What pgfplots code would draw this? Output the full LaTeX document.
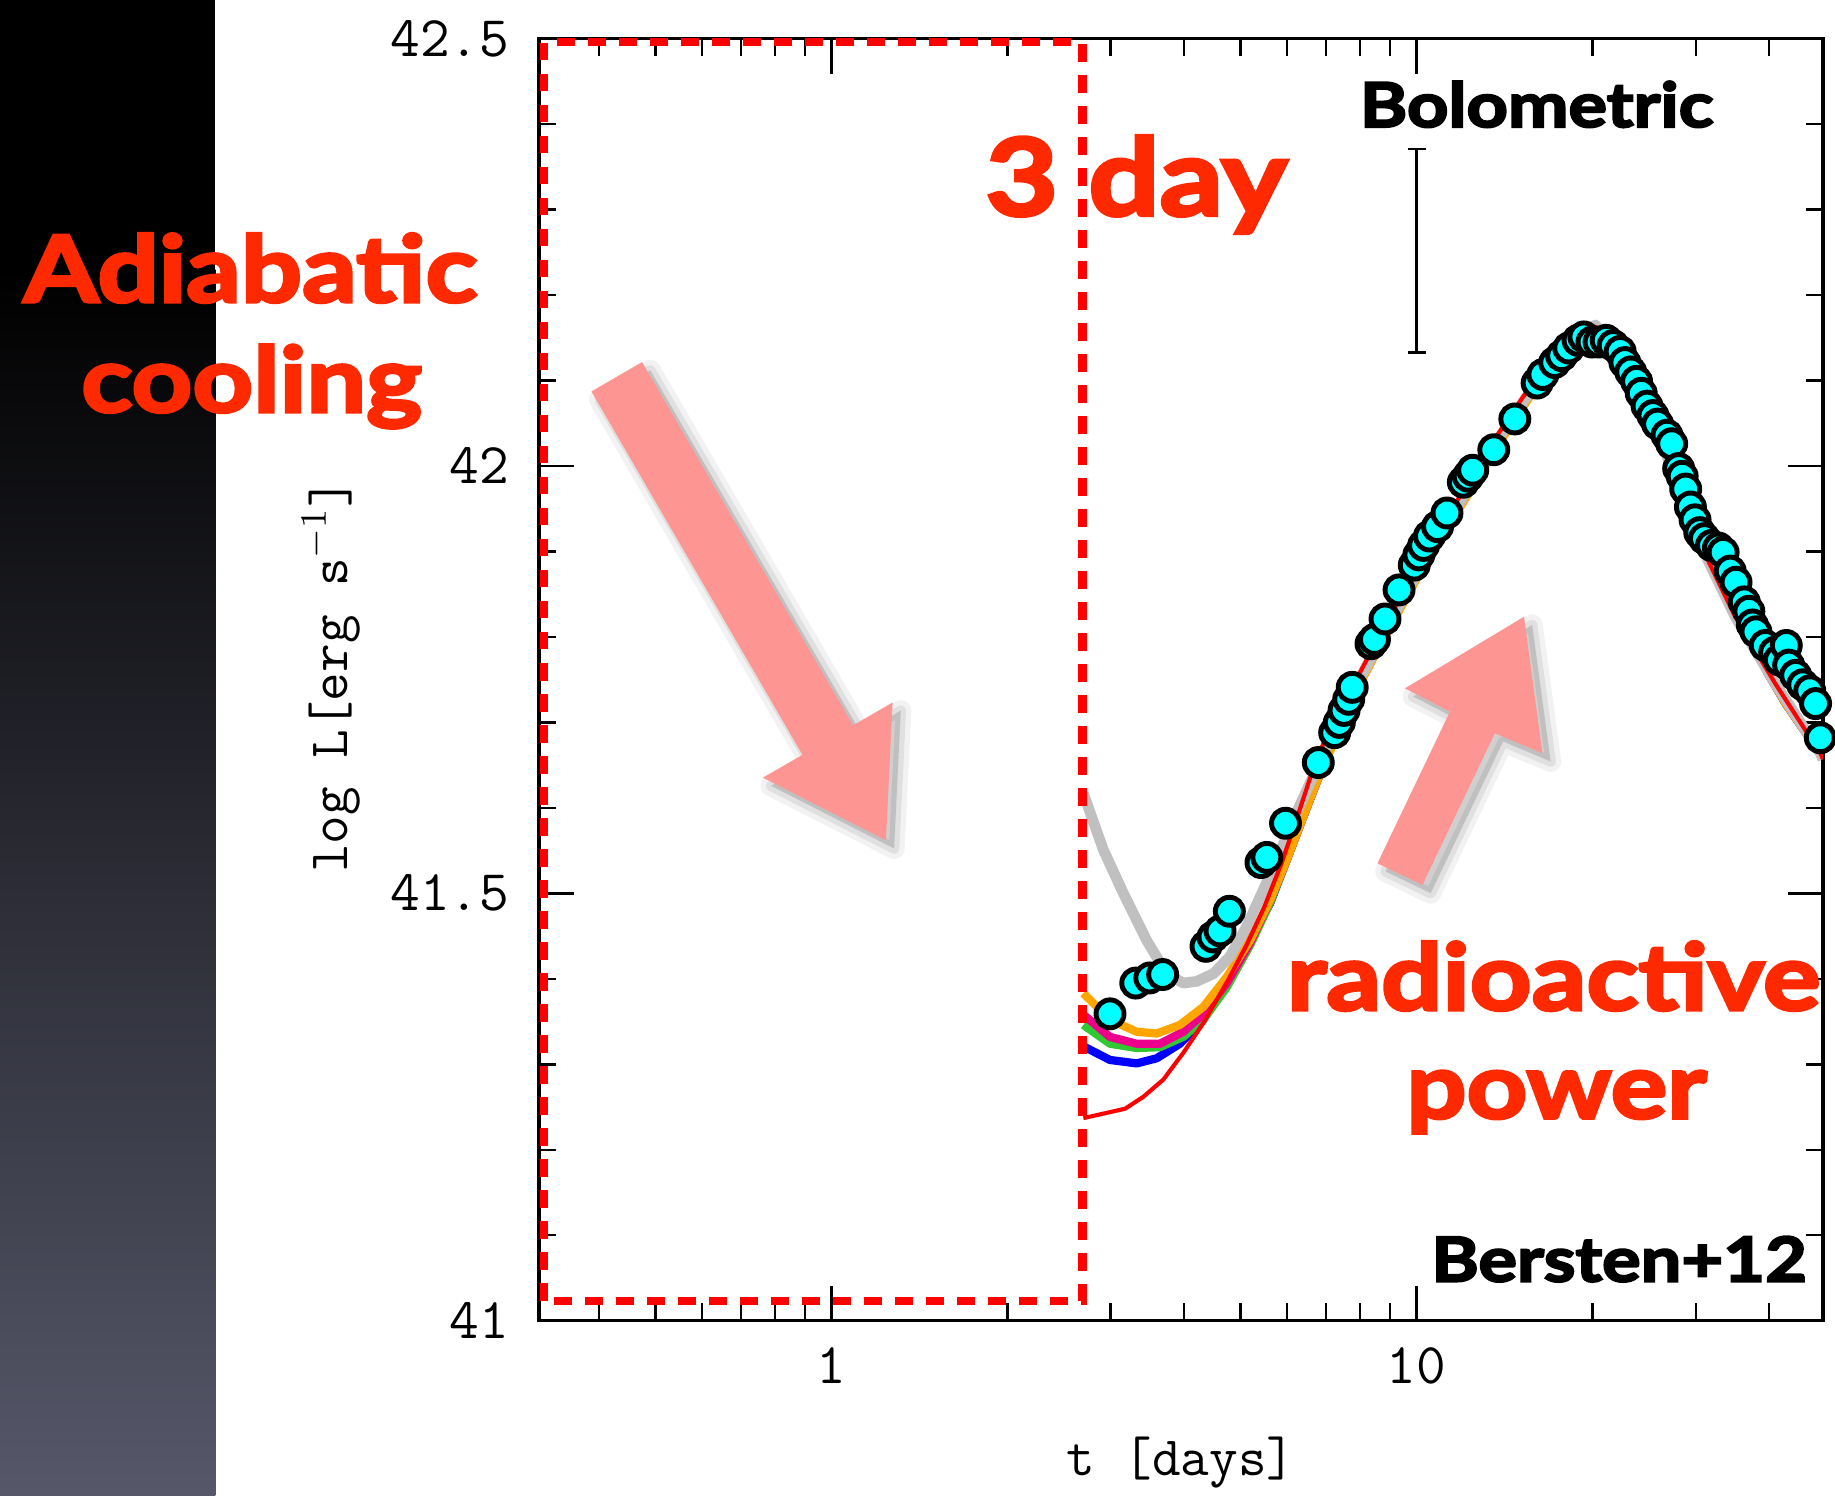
\documentclass[border=0pt]{standalone}
\usepackage{pgfplots}
\pgfplotsset{compat=1.18}
\usepackage{fontspec}
\newfontfamily\annot{Lato}[BoldFeatures={FakeBold=3.5, FakeStretch=1.17}]
\definecolor{slideRed}{RGB}{255,41,0}
\definecolor{arrowPink}{RGB}{253,150,147}
\definecolor{curveGray}{RGB}{192,192,192}
\definecolor{curveOrange}{RGB}{255,165,0}
\definecolor{curveGreen}{RGB}{50,200,50}
\definecolor{ptCyan}{RGB}{0,255,255}
\definecolor{slateB}{RGB}{86,88,106}
\definecolor{navyB}{RGB}{28,29,54}

\begin{document}
\begin{tikzpicture}
\path[use as bounding box] (0,0) rectangle (156.8mm,127.8mm);
\fill[white] (0,0) rectangle (156.8mm,127.8mm);
\fill[black] (0,104.7mm) rectangle (18.4mm,127.8mm);
\shade[top color=black, middle color=navyB, bottom color=slateB] (0,0) rectangle (18.4mm,104.8mm);

\begin{axis}[
  at={(46.06mm,14.95mm)}, anchor=south west,
  scale only axis, width=109.71mm, height=109.55mm,
  xmode=log, xmin=0.3162, xmax=49.5, ymin=41, ymax=42.5,
  xtick={1,10}, xticklabels={1,10},
  minor xtick={0.4,0.5,0.6,0.7,0.8,0.9,2,3,4,5,6,7,8,9,20,30,40},
  ytick={41,41.5,42,42.5}, yticklabels={41,41.5,42,42.5},
  minor ytick={41.1,41.2,41.3,41.4,41.6,41.7,41.8,41.9,42.1,42.2,42.3,42.4},
  tick pos=both, tick align=inside,
  major tick length=3mm, minor tick length=1.5mm,
  every tick/.style={black, line width=0.6pt},
  axis line style={line width=0.8pt},
  tick label style={font=\fontsize{14}{16}\selectfont\ttfamily},
  yticklabel style={xshift=-1.3mm},
  xticklabel style={yshift=-1.1mm},
  xlabel={t [days]}, ylabel={log L[erg s$^{-1}$]},
  label style={font=\fontsize{13.5}{16}\selectfont\ttfamily},
  xlabel style={at={(axis description cs:0.5,-0.111)}, anchor=center},
  ylabel style={at={(axis description cs:-0.1619,0.503)}, anchor=center},
  clip=true,
]
% blue model
\addplot[blue, line width=2pt, line join=round] coordinates {
(2.694,41.321)(2.992,41.305)(3.324,41.301)(3.595,41.307)(3.940,41.324)(4.318,41.352)(4.613,41.383)(4.925,41.414)(5.260,41.453)(5.616,41.488)(5.998,41.539)(6.405,41.590)(6.837,41.640)(7.396,41.696)(7.943,41.747)(8.710,41.799)(9.550,41.849)(10.47,41.899)(11.48,41.942)(12.59,41.986)(13.80,42.032)(15.14,42.073)(16.60,42.114)(18.20,42.145)(19.50,42.159)(20.42,42.158)(21.38,42.145)(22.91,42.114)(24.55,42.079)(26.30,42.041)(28.18,41.997)(30.20,41.942)(32.36,41.894)(34.67,41.847)(37.15,41.799)(39.81,41.758)(42.66,41.723)(45.71,41.693)(49.5,41.658)};
% green model
\addplot[curveGreen, line width=2pt, line join=round] coordinates {
(2.694,41.346)(2.992,41.324)(3.324,41.319)(3.642,41.320)(3.992,41.332)(4.318,41.352)(4.736,41.390)(5.191,41.439)(5.616,41.489)(5.998,41.539)(6.405,41.590)(6.837,41.640)(7.396,41.696)(7.943,41.747)(8.710,41.799)(9.550,41.849)(10.47,41.899)(11.48,41.942)(12.59,41.986)(13.80,42.032)(15.14,42.073)(16.60,42.114)(18.20,42.145)(19.50,42.159)(20.42,42.158)(21.38,42.145)(22.91,42.114)(24.55,42.079)(26.30,42.041)(28.18,41.997)(30.20,41.942)(32.36,41.894)(34.67,41.847)(37.15,41.799)(39.81,41.758)(42.66,41.723)(45.71,41.693)(49.5,41.660)};
% magenta model
\addplot[magenta, line width=2pt, line join=round] coordinates {
(2.694,41.358)(2.992,41.332)(3.324,41.324)(3.642,41.324)(3.992,41.338)(4.318,41.359)(4.736,41.395)(5.191,41.442)(5.616,41.492)(5.998,41.539)(6.405,41.590)(6.837,41.640)(7.396,41.696)(7.943,41.747)(8.710,41.799)(9.550,41.849)(10.47,41.899)(11.48,41.942)(12.59,41.986)(13.80,42.032)(15.14,42.073)(16.60,42.114)(18.20,42.145)(19.50,42.159)(20.42,42.158)(21.38,42.145)(22.91,42.114)(24.55,42.079)(26.30,42.041)(28.18,41.997)(30.20,41.942)(32.36,41.894)(34.67,41.847)(37.15,41.799)(39.81,41.758)(42.66,41.723)(45.71,41.693)(49.5,41.662)};
% orange model
\addplot[curveOrange, line width=2pt, line join=round] coordinates {
(2.694,41.383)(2.992,41.352)(3.324,41.338)(3.595,41.336)(3.940,41.346)(4.318,41.367)(4.736,41.402)(5.191,41.445)(5.616,41.492)(5.998,41.539)(6.405,41.590)(6.837,41.640)(7.396,41.692)(7.943,41.741)(8.710,41.793)(9.550,41.843)(10.47,41.893)(11.48,41.936)(12.59,41.980)(13.80,42.026)(15.14,42.067)(16.60,42.109)(18.20,42.142)(19.50,42.158)(20.42,42.158)(21.38,42.145)(22.91,42.114)(24.55,42.079)(26.30,42.041)(28.18,41.997)(30.20,41.942)(32.36,41.894)(34.67,41.847)(37.15,41.799)(39.81,41.758)(42.66,41.723)(45.71,41.693)(49.5,41.658)};
% gray model
\addplot[curveGray, line width=2.6pt, line join=round] coordinates {
(2.694,41.617)(2.914,41.551)(3.154,41.500)(3.456,41.445)(3.740,41.406)(3.992,41.395)(4.209,41.397)(4.495,41.406)(4.797,41.426)(5.123,41.461)(5.470,41.504)(5.766,41.539)(6.155,41.586)(6.575,41.629)(7.228,41.691)(7.943,41.747)(8.710,41.799)(9.550,41.849)(10.47,41.899)(11.48,41.942)(12.59,41.986)(13.80,42.032)(15.14,42.073)(16.60,42.114)(18.20,42.145)(20.23,42.165)(23.44,42.107)(26.67,42.015)(29.92,41.921)(35.08,41.823)(41.06,41.745)(48.98,41.664)(49.5,41.657)};
% red model
\addplot[red, line width=1pt, line join=round] coordinates {
(2.694,41.237)(3.176,41.248)(3.412,41.262)(3.690,41.282)(3.990,41.313)(4.318,41.348)(4.775,41.400)(5.117,41.439)(5.483,41.483)(5.875,41.535)(6.237,41.587)(6.592,41.637)(7.063,41.690)(7.943,41.754)(8.710,41.806)(9.550,41.856)(10.47,41.906)(11.48,41.949)(12.59,41.993)(13.80,42.038)(15.14,42.079)(16.60,42.118)(18.20,42.147)(20.23,42.163)(23.44,42.107)(26.67,42.015)(29.92,41.921)(35.08,41.823)(41.06,41.745)(48.98,41.664)(49.5,41.657)};
% observed bolometric points
\addplot[only marks, mark=*, mark size=3.4pt, mark options={fill=ptCyan, draw=black, line width=1.2pt}] coordinates {
(2.992,41.359)(3.311,41.395)(3.499,41.401)(3.681,41.405)(4.365,41.438)(4.487,41.449)(4.613,41.456)(4.786,41.479)(5.420,41.536)(5.546,41.542)(5.970,41.582)(6.792,41.653)(7.244,41.688)(7.379,41.700)(7.516,41.714)(7.656,41.727)(7.762,41.741)(8.356,41.792)(8.472,41.797)(8.831,41.821)(9.333,41.855)(9.908,41.884)(10.09,41.896)(10.28,41.907)(10.52,41.918)(10.86,41.929)(11.27,41.945)(12.02,41.981)(12.25,41.988)(12.47,41.995)(13.55,42.019)(14.72,42.055)(16.07,42.097)(16.44,42.107)(17.22,42.121)(17.70,42.129)(18.20,42.138)(18.88,42.147)(19.32,42.151)(19.95,42.145)(20.51,42.145)(21.09,42.147)(21.68,42.141)(22.28,42.134)(22.70,42.121)(23.23,42.110)(23.77,42.099)(24.21,42.085)(24.77,42.070)(25.35,42.059)(25.82,42.049)(26.79,42.036)(27.29,42.026)(28.05,41.997)(28.44,41.988)(28.84,41.973)(29.38,41.952)(29.92,41.937)(30.48,41.922)(31.05,41.915)(31.92,41.907)(32.81,41.904)(33.42,41.899)(34.36,41.877)(35.16,41.864)(36.31,41.841)(36.98,41.830)(37.50,41.814)(38.02,41.806)(39.45,41.790)(40.93,41.782)(41.69,41.773)(42.85,41.790)(43.25,41.767)(44.46,41.755)(45.71,41.744)(46.99,41.737)(48.08,41.722)(48.98,41.682)};
% error bar
\addplot[black, mark=none, forget plot, error bars/.cd, y dir=both, y explicit,
  error bar style={line width=0.6pt, black}, error mark options={rotate=90, mark size=2.2pt, line width=0.6pt, black}]
  coordinates {(10,42.252) +- (0,0.119)};
% dashed box
\draw[red, line width=0.7mm, dash pattern=on 1.5mm off 1.15mm] (axis cs:0.3228,41.0233) rectangle (axis cs:2.685,42.4959);
\end{axis}

\begin{scope}[x=0.1mm, y=0.1mm]
% arrow shadows
\begin{scope}[shift={(7,-7)}]
\draw[black, opacity=0.05, line width=1.8mm, line join=round] (548.6,968.6) -- (728.9,658.2) -- (762.7,677.7) -- (757,560) -- (651.9,613.5) -- (685.7,633.0) -- (505.4,943.5) -- cycle;
\draw[black, opacity=0.07, line width=0.9mm, line join=round] (548.6,968.6) -- (728.9,658.2) -- (762.7,677.7) -- (757,560) -- (651.9,613.5) -- (685.7,633.0) -- (505.4,943.5) -- cycle;
\fill[black, opacity=0.14] (548.6,968.6) -- (728.9,658.2) -- (762.7,677.7) -- (757,560) -- (651.9,613.5) -- (685.7,633.0) -- (505.4,943.5) -- cycle;
\draw[black, opacity=0.05, line width=1.8mm, line join=round] (1177,540.3) -- (1239,670) -- (1200.5,689.8) -- (1302.2,751) -- (1318,634.3) -- (1277.4,651.4) -- (1215.5,521.8) -- cycle;
\draw[black, opacity=0.07, line width=0.9mm, line join=round] (1177,540.3) -- (1239,670) -- (1200.5,689.8) -- (1302.2,751) -- (1318,634.3) -- (1277.4,651.4) -- (1215.5,521.8) -- cycle;
\fill[black, opacity=0.14] (1177,540.3) -- (1239,670) -- (1200.5,689.8) -- (1302.2,751) -- (1318,634.3) -- (1277.4,651.4) -- (1215.5,521.8) -- cycle;
\end{scope}
\fill[arrowPink] (548.6,968.6) -- (728.9,658.2) -- (762.7,677.7) -- (757,560) -- (651.9,613.5) -- (685.7,633.0) -- (505.4,943.5) -- cycle;
\fill[arrowPink] (1177,540.3) -- (1239,670) -- (1200.5,689.8) -- (1302.2,751) -- (1318,634.3) -- (1277.4,651.4) -- (1215.5,521.8) -- cycle;

% annotations
\node[anchor=base, inner sep=0pt, text=slideRed, font=\annot\bfseries\fontsize{22.4}{24}\selectfont] at (214,1020) {Adiabatic};
\node[anchor=base, inner sep=0pt, text=slideRed, font=\annot\bfseries\fontsize{22}{24}\selectfont] at (215,926) {cooling};
\node[anchor=base, inner sep=0pt, text=slideRed, font=\annot\bfseries\fontsize{26}{28}\selectfont] at (971,1094) {3 day};
\node[anchor=base, inner sep=0pt, text=black, font=\annot\bfseries\fontsize{15}{17}\selectfont] at (1313,1169.5) {Bolometric};
\node[anchor=base, inner sep=0pt, text=slideRed, font=\annot\bfseries\fontsize{22.4}{24}\selectfont] at (1327.5,415) {radioactive};
\node[anchor=base, inner sep=0pt, text=slideRed, font=\annot\bfseries\fontsize{22}{24}\selectfont] at (1330,322.5) {power};
\node[anchor=base, inner sep=0pt, text=black, font=\annot\bfseries\fontsize{15}{17}\selectfont] at (1383.5,183) {Bersten+12};
\end{scope}
\end{tikzpicture}
\end{document}
